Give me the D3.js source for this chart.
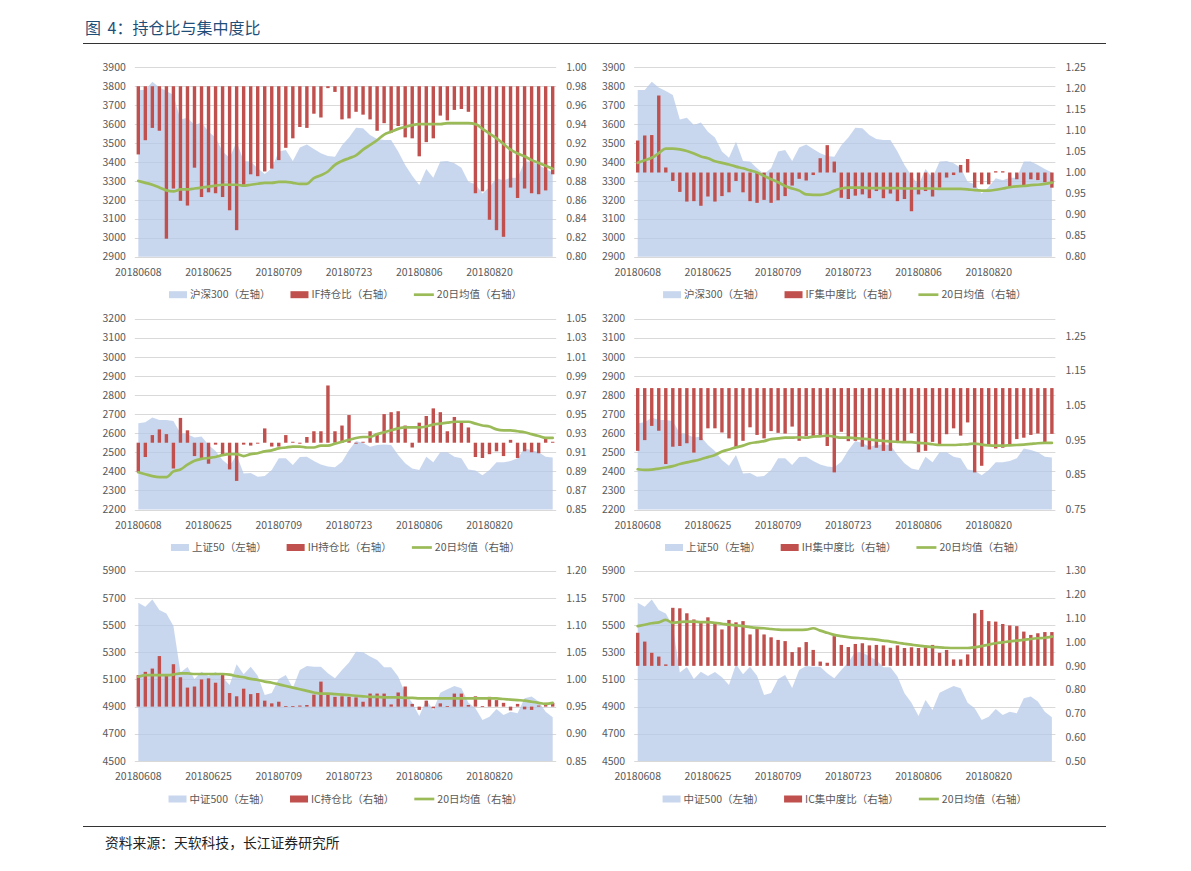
<!DOCTYPE html>
<html><head><meta charset="utf-8">
<script src="https://cdn.jsdelivr.net/npm/d3@7"></script>
<style>body{margin:0;background:#fff}svg{display:block}</style>
</head><body>
<svg id="c" width="1191" height="871"></svg>
<script>
// ---------- DATA ----------
const dates = ["20180608","20180611","20180612","20180613","20180614","20180615","20180619","20180620","20180621","20180622",
"20180625","20180626","20180627","20180628","20180629","20180702","20180703","20180704","20180705","20180706",
"20180709","20180710","20180711","20180712","20180713","20180716","20180717","20180718","20180719","20180720",
"20180723","20180724","20180725","20180726","20180727","20180730","20180731","20180801","20180802","20180803",
"20180806","20180807","20180808","20180809","20180810","20180813","20180814","20180815","20180816","20180817",
"20180820","20180821","20180822","20180823","20180824","20180827","20180828","20180829","20180830","20180831"];
const xTickLabels = ["20180608","20180625","20180709","20180723","20180806","20180820"];

const hs300 = [3780,3780,3824,3793,3775,3754,3625,3634,3595,3608,3560,3530,3455,3423,3507,3405,3402,3367,3337,3367,3455,3463,3405,3476,3493,3469,3446,3432,3428,3489,3530,3581,3578,3543,3521,3516,3516,3455,3384,3328,3279,3363,3317,3402,3405,3393,3370,3296,3282,3234,3268,3314,3303,3317,3317,3402,3402,3384,3363,3345];
const sz50 = [2652,2657,2682,2669,2669,2664,2599,2594,2577,2582,2538,2506,2459,2429,2485,2389,2391,2372,2375,2407,2468,2468,2433,2475,2477,2454,2436,2426,2422,2450,2510,2559,2549,2529,2538,2541,2538,2485,2442,2415,2407,2477,2447,2500,2500,2477,2468,2410,2405,2380,2407,2447,2447,2454,2468,2520,2512,2500,2477,2473];
const zz500 = [5665,5635,5689,5611,5586,5493,5152,5192,5103,5157,5125,5155,5116,5059,5211,5138,5194,5128,4986,5000,5103,5133,5037,5170,5199,5194,5194,5145,5108,5170,5225,5304,5300,5268,5243,5189,5189,5121,4998,4929,4831,4949,4875,5003,5027,5052,5035,4929,4888,4802,4826,4883,4839,4863,4851,4961,4974,4937,4863,4822];

const ifRatio = [0.908,0.923,0.936,0.933,0.819,0.872,0.859,0.854,0.894,0.863,0.868,0.867,0.863,0.849,0.828,0.876,0.887,0.885,0.890,0.893,0.902,0.915,0.925,0.937,0.936,0.951,0.947,0.978,0.974,0.945,0.946,0.953,0.950,0.945,0.933,0.941,0.931,0.938,0.926,0.925,0.906,0.921,0.925,0.949,0.944,0.955,0.956,0.953,0.867,0.869,0.839,0.828,0.821,0.873,0.862,0.872,0.867,0.866,0.870,0.887];
const ifRatioMA = [0.880,0.878,0.876,0.873,0.870,0.869,0.871,0.871,0.872,0.873,0.874,0.875,0.876,0.876,0.876,0.875,0.876,0.877,0.878,0.878,0.879,0.879,0.878,0.877,0.877,0.883,0.886,0.890,0.897,0.901,0.904,0.907,0.913,0.918,0.923,0.929,0.932,0.935,0.937,0.939,0.940,0.940,0.940,0.940,0.941,0.941,0.941,0.941,0.940,0.935,0.930,0.925,0.919,0.913,0.909,0.906,0.902,0.899,0.896,0.893];
const ifConc = [1.076,1.088,1.089,1.183,1.012,0.980,0.954,0.931,0.932,0.921,0.943,0.931,0.944,0.953,0.980,0.953,0.932,0.928,0.935,0.928,0.934,0.944,0.969,0.985,0.981,0.994,1.034,1.065,1.026,0.940,0.937,0.945,0.948,0.939,0.956,0.939,0.950,0.932,0.937,0.908,0.948,0.956,0.943,0.964,0.988,0.994,1.018,1.032,0.964,0.972,0.972,1.003,1.003,0.966,0.984,0.970,0.984,0.982,0.977,0.964];
const ifConcMA = [1.023,1.029,1.035,1.046,1.057,1.057,1.055,1.051,1.045,1.038,1.034,1.027,1.023,1.019,1.014,1.010,1.005,1.000,0.992,0.984,0.977,0.968,0.962,0.957,0.948,0.947,0.947,0.950,0.957,0.962,0.964,0.964,0.964,0.963,0.963,0.963,0.963,0.963,0.962,0.962,0.962,0.962,0.962,0.961,0.961,0.961,0.961,0.960,0.958,0.957,0.957,0.959,0.962,0.965,0.967,0.968,0.970,0.971,0.973,0.976];
const ihRatio = [0.889,0.905,0.928,0.934,0.929,0.893,0.946,0.933,0.906,0.904,0.898,0.918,0.908,0.892,0.880,0.918,0.917,0.919,0.935,0.916,0.916,0.928,0.921,0.919,0.926,0.932,0.932,0.980,0.932,0.938,0.949,0.919,0.921,0.932,0.930,0.950,0.952,0.953,0.938,0.915,0.941,0.948,0.956,0.952,0.932,0.947,0.941,0.936,0.905,0.904,0.908,0.911,0.906,0.923,0.904,0.911,0.910,0.909,0.924,0.921];
const ihRatioMA = [0.889,0.887,0.885,0.884,0.884,0.890,0.892,0.897,0.901,0.903,0.904,0.905,0.907,0.908,0.908,0.906,0.908,0.909,0.911,0.912,0.914,0.915,0.916,0.916,0.915,0.915,0.917,0.917,0.919,0.921,0.923,0.925,0.926,0.926,0.929,0.931,0.933,0.935,0.936,0.936,0.936,0.937,0.939,0.940,0.941,0.942,0.942,0.942,0.940,0.938,0.937,0.934,0.933,0.933,0.932,0.931,0.929,0.927,0.925,0.925];
const ihConc = [0.919,0.950,0.991,0.977,0.881,0.931,0.933,0.941,0.914,0.950,0.984,0.984,0.972,0.955,0.928,0.948,0.987,0.965,0.955,0.976,0.971,0.969,0.989,0.948,0.962,0.962,0.965,0.933,0.857,0.974,0.947,0.948,0.931,0.923,0.928,0.919,0.919,0.947,0.947,0.970,0.915,0.919,0.945,0.938,0.967,0.984,0.963,1.001,0.857,0.876,0.934,0.926,0.928,0.938,0.953,0.957,0.965,0.969,0.944,0.968];
const ihConcMA = [0.866,0.864,0.865,0.868,0.871,0.875,0.881,0.886,0.890,0.895,0.901,0.907,0.917,0.923,0.929,0.934,0.941,0.944,0.947,0.953,0.955,0.957,0.957,0.958,0.957,0.960,0.961,0.963,0.960,0.957,0.957,0.956,0.954,0.952,0.949,0.948,0.946,0.945,0.944,0.944,0.942,0.941,0.938,0.936,0.936,0.936,0.937,0.938,0.940,0.937,0.935,0.934,0.934,0.935,0.936,0.937,0.939,0.941,0.942,0.942];
const icRatio = [1.008,1.014,1.020,1.043,1.008,1.028,1.004,0.985,0.987,1.000,1.002,0.994,1.009,0.975,0.969,0.983,0.973,0.975,0.961,0.956,0.959,0.951,0.951,0.952,0.953,0.972,0.996,0.974,0.968,0.969,0.968,0.967,0.959,0.974,0.974,0.974,0.954,0.976,0.987,0.955,0.944,0.961,0.947,0.956,0.951,0.974,0.974,0.953,0.969,0.951,0.968,0.962,0.957,0.943,0.955,0.945,0.944,0.952,0.957,0.957];
const icRatioMA = [1.005,1.008,1.008,1.008,1.008,1.009,1.011,1.011,1.010,1.010,1.010,1.010,1.010,1.009,1.006,1.004,1.001,0.999,0.996,0.994,0.991,0.988,0.985,0.982,0.979,0.976,0.974,0.974,0.973,0.972,0.971,0.970,0.969,0.968,0.968,0.967,0.967,0.967,0.966,0.966,0.965,0.965,0.965,0.965,0.965,0.965,0.965,0.965,0.965,0.965,0.965,0.965,0.964,0.963,0.962,0.961,0.959,0.957,0.955,0.957];
const icConc = [1.039,1.002,0.955,0.939,0.906,1.144,1.142,1.121,1.095,1.083,1.104,1.081,1.053,1.093,1.083,1.088,1.032,1.060,1.032,1.020,1.009,1.004,0.958,0.978,1.000,0.967,0.918,0.913,1.025,0.988,0.979,0.992,0.995,0.986,0.988,0.986,0.976,0.986,0.975,0.978,0.975,0.978,0.988,0.955,0.967,0.927,0.927,0.948,1.121,1.135,1.088,1.086,1.076,1.070,1.067,1.044,1.030,1.037,1.042,1.042];
const icConcMA = [1.067,1.073,1.079,1.083,1.093,1.081,1.084,1.086,1.086,1.084,1.084,1.081,1.077,1.073,1.070,1.067,1.063,1.060,1.058,1.055,1.052,1.051,1.051,1.051,1.052,1.058,1.048,1.039,1.030,1.025,1.021,1.018,1.016,1.013,1.010,1.006,1.002,0.997,0.993,0.989,0.985,0.982,0.979,0.978,0.976,0.975,0.975,0.975,0.978,0.983,0.989,0.995,0.999,1.003,1.006,1.009,1.013,1.016,1.018,1.023];

const leftTicksHS = [2900,3000,3100,3200,3300,3400,3500,3600,3700,3800,3900];
const leftTicksSZ = [2200,2300,2400,2500,2600,2700,2800,2900,3000,3100,3200];
const leftTicksZZ = [4500,4700,4900,5100,5300,5500,5700,5900];
const rightTicks1 = [0.80,0.82,0.84,0.86,0.88,0.90,0.92,0.94,0.96,0.98,1.00];
const rightTicks2 = [0.80,0.85,0.90,0.95,1.00,1.05,1.10,1.15,1.20,1.25];
const rightTicks3 = [0.85,0.87,0.89,0.91,0.93,0.95,0.97,0.99,1.01,1.03,1.05];
const rightTicks4 = [0.75,0.85,0.95,1.05,1.15,1.25];
const rightTicks5 = [0.85,0.90,0.95,1.00,1.05,1.10,1.15,1.20];
const rightTicks6 = [0.50,0.60,0.70,0.80,0.90,1.00,1.10,1.20,1.30];

const titleHead = "图 ";
const titleTail = "4：持仓比与集中度比";
const sourceText = "资料来源：天软科技，长江证券研究所";
const maName = "20日均值（右轴）";

// ---------- PANELS ----------
const panels = [
  {col:0,row:0,idx:hs300,idxName:"沪深300（左轴）",lt:leftTicksHS,rt:rightTicks1,rd:[0.80,1.00],base:0.98,bars:ifRatio,ma:ifRatioMA,barName:"IF持仓比（右轴）"},
  {col:1,row:0,idx:hs300,idxName:"沪深300（左轴）",lt:leftTicksHS,rt:rightTicks2,rd:[0.80,1.25],base:1.00,bars:ifConc,ma:ifConcMA,barName:"IF集中度比（右轴）"},
  {col:0,row:1,idx:sz50,idxName:"上证50（左轴）",lt:leftTicksSZ,rt:rightTicks3,rd:[0.85,1.05],base:0.92,bars:ihRatio,ma:ihRatioMA,barName:"IH持仓比（右轴）"},
  {col:1,row:1,idx:sz50,idxName:"上证50（左轴）",lt:leftTicksSZ,rt:rightTicks4,rd:[0.75,1.30],base:1.10,bars:ihConc,ma:ihConcMA,barName:"IH集中度比（右轴）"},
  {col:0,row:2,idx:zz500,idxName:"中证500（左轴）",lt:leftTicksZZ,rt:rightTicks5,rd:[0.85,1.20],base:0.95,bars:icRatio,ma:icRatioMA,barName:"IC持仓比（右轴）"},
  {col:1,row:2,idx:zz500,idxName:"中证500（左轴）",lt:leftTicksZZ,rt:rightTicks6,rd:[0.50,1.30],base:0.90,bars:icConc,ma:icConcMA,barName:"IC集中度比（右轴）"}
];

// ---------- LAYOUT ----------
const colX = [[134.8,556.2],[634.2,1055.4]];
const rowY = [[67.3,256.7],[318.7,509.5],[570.7,761]];
const FONT = "'Noto Sans CJK SC','Microsoft YaHei',sans-serif";
const C = {area:"#b4c7e7", bar:"#c0504d", line:"#9bbb59", grid:"#d9d9d9", text:"#595959"};

const svg = d3.select("#c");
svg.append("rect").attr("width",1191).attr("height",871).attr("fill","#fff");

const title = svg.append("text").attr("x",85).attr("y",34).attr("font-family",FONT).attr("font-size",16)
  .attr("fill","#1f4e79").attr("xml:space","preserve").style("white-space","pre");
title.append("tspan").text(titleHead);
title.append("tspan").attr("dx",3).text(titleTail);
svg.append("line").attr("x1",83).attr("x2",1106).attr("y1",43.5).attr("y2",43.5).attr("stroke","#333").attr("stroke-width",1);
svg.append("line").attr("x1",83).attr("x2",1106).attr("y1",826.5).attr("y2",826.5).attr("stroke","#333").attr("stroke-width",1);
svg.append("text").attr("x",105).attr("y",848).attr("font-family",FONT).attr("font-size",13.8)
  .attr("fill","#222").text(sourceText);

panels.forEach(p => {
  const [x0,x1] = colX[p.col], [yT,yB] = rowY[p.row];
  const g = svg.append("g");
  const x = d3.scaleBand().domain(dates).range([x0,x1]).padding(0);
  const cx = d => x(d) + x.bandwidth()/2;
  const yL = d3.scaleLinear().domain([p.lt[0], p.lt[p.lt.length-1]]).range([yB,yT]);
  const yR = d3.scaleLinear().domain(p.rd).range([yB,yT]);

  // gridlines
  g.append("g").selectAll("line").data(p.lt).join("line")
    .attr("x1",x0).attr("x2",x1).attr("y1",d=>Math.round(yL(d))+0.5).attr("y2",d=>Math.round(yL(d))+0.5)
    .attr("stroke",C.grid).attr("stroke-width",1);

  // area
  const area = d3.area().x((d,i)=>cx(dates[i])).y0(yB).y1(d=>yL(d));
  g.append("path").datum(p.idx).attr("d",area).attr("fill",C.area).attr("fill-opacity",0.72);

  // bars
  const bw = 3.4;
  g.append("g").selectAll("rect").data(p.bars).join("rect")
    .attr("x",(d,i)=>cx(dates[i])-bw/2).attr("width",bw)
    .attr("y",d=>Math.min(yR(d),yR(p.base)))
    .attr("height",d=>Math.max(0.8,Math.abs(yR(d)-yR(p.base))))
    .attr("fill",C.bar);

  // MA line
  const line = d3.line().x((d,i)=>cx(dates[i])).y(d=>yR(d)).curve(d3.curveMonotoneX);
  g.append("path").datum(p.ma).attr("d",line).attr("fill","none").attr("stroke",C.line).attr("stroke-width",2.7)
    .attr("stroke-linejoin","round").attr("stroke-linecap","round");

  // left axis labels
  g.append("g").selectAll("text").data(p.lt).join("text")
    .attr("x",x0-9).attr("y",d=>yL(d)).attr("dy","0.35em").attr("text-anchor","end")
    .attr("font-family",FONT).attr("font-size",10.5).attr("fill",C.text).text(d=>d);
  // right axis labels
  g.append("g").selectAll("text").data(p.rt).join("text")
    .attr("x",x1+10).attr("y",d=>yR(d)).attr("dy","0.35em").attr("text-anchor","start")
    .attr("font-family",FONT).attr("font-size",10.5).attr("fill",C.text).text(d=>d3.format(".2f")(d));
  // x labels
  g.append("g").selectAll("text").data(xTickLabels).join("text")
    .attr("x",d=>cx(d)).attr("y",yB+15.5).attr("dy","0.35em").attr("text-anchor","middle")
    .attr("font-family",FONT).attr("font-size",10.5).attr("fill",C.text).text(d=>d);

  // legend
  const ly = yB + 38;
  const lg = g.append("g");
  const items = [{t:p.idxName,k:"area"},{t:p.barName,k:"bar"},{t:maName,k:"line"}];
  let cur = 0;
  items.forEach(it=>{
    const ig = lg.append("g").attr("transform",`translate(${cur},0)`);
    if(it.k==="area") ig.append("rect").attr("x",0).attr("y",-3.5).attr("width",18).attr("height",7).attr("fill",C.area).attr("fill-opacity",0.72);
    if(it.k==="bar") ig.append("rect").attr("x",0).attr("y",-3.5).attr("width",18).attr("height",7).attr("fill",C.bar);
    if(it.k==="line") ig.append("line").attr("x1",0).attr("x2",20).attr("y1",0).attr("y2",0).attr("stroke",C.line).attr("stroke-width",2.7);
    const sw = it.k==="line"?20:18;
    const t = ig.append("text").attr("x",sw+3).attr("y",0).attr("dy","0.35em")
      .attr("font-family",FONT).attr("font-size",10.5).attr("fill",C.text).text(it.t);
    const w = sw+3+t.node().getComputedTextLength();
    cur += w + 20;
  });
  const total = cur - 20;
  lg.attr("transform",`translate(${(x0+x1)/2-total/2},${ly})`);
});
</script>
</body></html>
